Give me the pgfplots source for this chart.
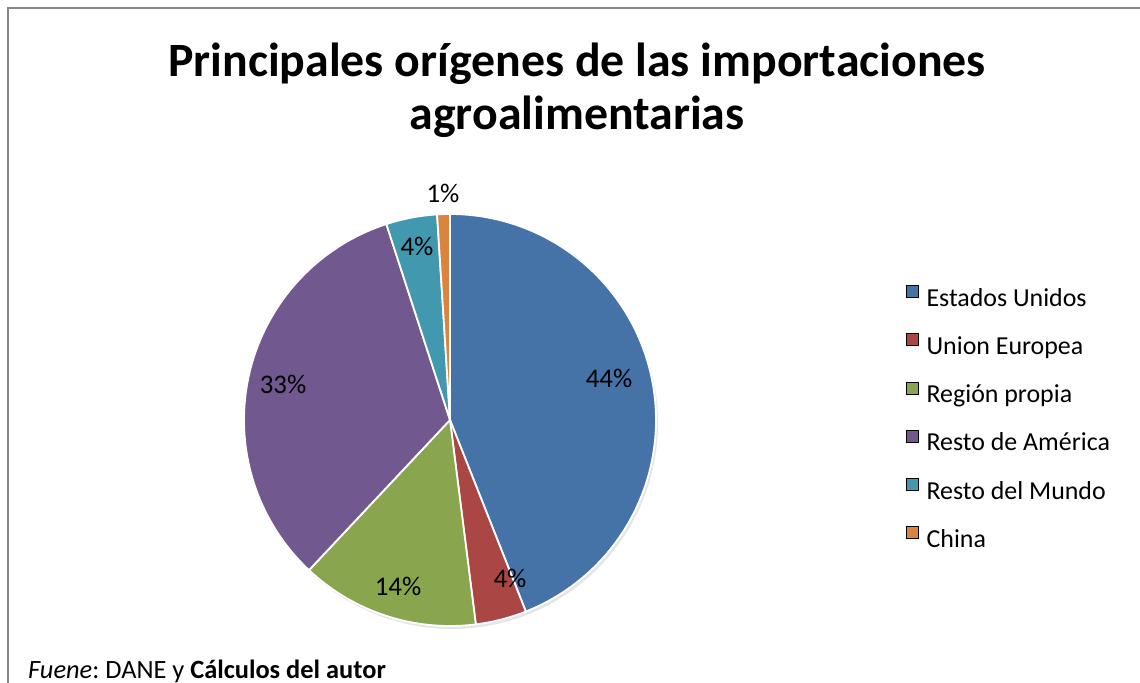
\documentclass[border=0pt]{standalone}
\usepackage{fontspec}
\setmainfont{Carlito}
\usepackage{pgfplots}
\pgfplotsset{compat=1.18}
\frenchspacing
\definecolor{cEU}{HTML}{4572A7}
\definecolor{cUE}{HTML}{AA4643}
\definecolor{cRP}{HTML}{89A54E}
\definecolor{cRA}{HTML}{71588F}
\definecolor{cRM}{HTML}{4198AF}
\definecolor{cCH}{HTML}{DB843D}
% shares (percent)
\def\vEU{44}\def\vUE{4}\def\vRP{14}\def\vRA{33}\def\vRM{4}\def\vCH{1}
\pgfmathsetmacro\aA{3.6*\vEU}
\pgfmathsetmacro\aB{\aA+3.6*\vUE}
\pgfmathsetmacro\aC{\aB+3.6*\vRP}
\pgfmathsetmacro\aD{\aC+3.6*\vRA}
\pgfmathsetmacro\aE{\aD+3.6*\vRM}
\pgfmathsetmacro\aF{\aE+3.6*\vCH}
\def\cx{450}\def\cy{263}\def\rr{206}
\begin{document}
\begin{tikzpicture}
\useasboundingbox (0,0) rectangle (1140bp,683bp);
\begin{axis}[
  width=1140bp, height=683bp, scale only axis,
  xmin=0, xmax=1140, ymin=0, ymax=683,
  hide axis, clip=false,
  legend style={at={(axis cs:903,400)}, anchor=north west, draw=none, fill=none,
    font=\fontsize{26}{30}\selectfont, row sep=20bp, column sep=8bp,
    nodes={inner sep=0pt, text height=19bp, text depth=7bp}},
  legend cell align=left,
  legend image code/.code={\fill[#1] (0bp,3bp) rectangle (12bp,15bp);},
]
% shadow
\addplot[forget plot, fill=black, fill opacity=0.10, draw=none, domain=0:360, samples=150]
  ({\cx+2+\rr*sin(x)},{\cy-3+\rr*cos(x)}) -- cycle;
\addplot[forget plot, fill=cEU, draw=white, line width=1.8bp, line join=round, domain=0:\aA, samples=120]
  ({\cx+\rr*sin(x)},{\cy+\rr*cos(x)}) -- (axis cs:\cx,\cy) -- cycle;
\addplot[forget plot, fill=cUE, draw=white, line width=1.8bp, line join=round, domain=\aA:\aB, samples=20]
  ({\cx+\rr*sin(x)},{\cy+\rr*cos(x)}) -- (axis cs:\cx,\cy) -- cycle;
\addplot[forget plot, fill=cRP, draw=white, line width=1.8bp, line join=round, domain=\aB:\aC, samples=50]
  ({\cx+\rr*sin(x)},{\cy+\rr*cos(x)}) -- (axis cs:\cx,\cy) -- cycle;
\addplot[forget plot, fill=cRA, draw=white, line width=1.8bp, line join=round, domain=\aC:\aD, samples=100]
  ({\cx+\rr*sin(x)},{\cy+\rr*cos(x)}) -- (axis cs:\cx,\cy) -- cycle;
\addplot[forget plot, fill=cRM, draw=white, line width=1.8bp, line join=round, domain=\aD:\aE, samples=20]
  ({\cx+\rr*sin(x)},{\cy+\rr*cos(x)}) -- (axis cs:\cx,\cy) -- cycle;
\addplot[forget plot, fill=cCH, draw=white, line width=1.8bp, line join=round, domain=\aE:\aF, samples=10]
  ({\cx+\rr*sin(x)},{\cy+\rr*cos(x)}) -- (axis cs:\cx,\cy) -- cycle;

\addlegendimage{fill=cEU}\addlegendentry{Estados Unidos}
\addlegendimage{fill=cUE}\addlegendentry{Union Europea}
\addlegendimage{fill=cRP}\addlegendentry{Región propia}
\addlegendimage{fill=cRA}\addlegendentry{Resto de América}
\addlegendimage{fill=cRM}\addlegendentry{Resto del Mundo}
\addlegendimage{fill=cCH}\addlegendentry{China}

% data labels
\begin{scope}[every node/.style={font=\fontsize{27}{30}\selectfont, inner sep=0pt}]
\node at (axis cs:609,305) {44\%};
\node at (axis cs:510,105) {4\%};
\node at (axis cs:398,97) {14\%};
\node at (axis cs:283,299) {33\%};
\node at (axis cs:417,437) {4\%};
\node at (axis cs:443,490) {1\%};
\end{scope}

% title
\node[anchor=base, font=\fontsize{48}{56}\selectfont\bfseries, inner sep=0pt] at (axis cs:577,606) {Principales orígenes de las importaciones};
\node[anchor=base, font=\fontsize{48}{56}\selectfont\bfseries, inner sep=0pt] at (axis cs:577,553) {agroalimentarias};

% source
\node[anchor=base west, font=\fontsize{26.5}{30}\selectfont, inner sep=0pt] at (axis cs:28,5) {\textit{Fuene}: DANE y \textbf{Cálculos del autor}};

% frame
\draw[color=black!47, line width=2.5bp] (axis cs:8,-20) -- (axis cs:8,675) -- (axis cs:1160,675);
\end{axis}
\end{tikzpicture}
\end{document}
